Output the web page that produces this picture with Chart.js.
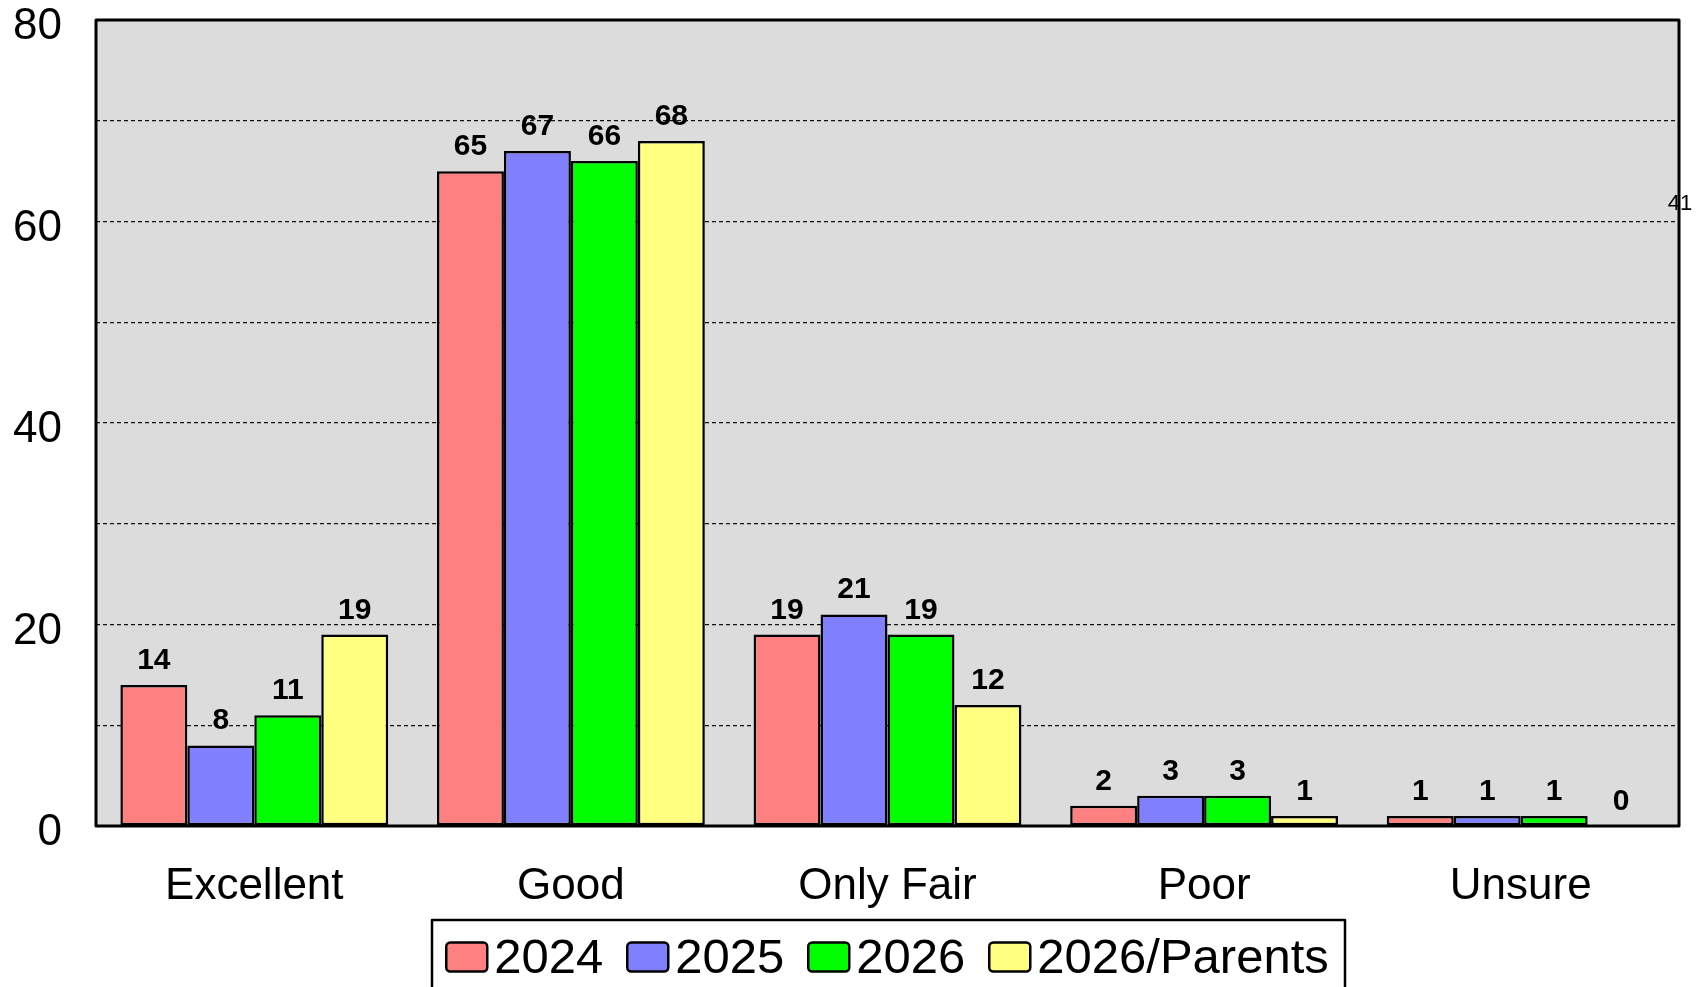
<!DOCTYPE html>
<html>
<head>
<meta charset="utf-8">
<script src="https://cdn.jsdelivr.net/npm/chart.js@4"></script>
<style>
html,body{margin:0;padding:0;background:#fff;}
#wrap{width:1705px;height:987px;position:relative;}
</style>
</head>
<body>
<div id="wrap"><canvas id="c" width="1705" height="987"></canvas></div>
<script>
const categories = ['Excellent', 'Good', 'Only Fair', 'Poor', 'Unsure'];
const series2024 = [14, 65, 19, 2, 1];
const series2025 = [8, 67, 21, 3, 1];
const series2026 = [11, 66, 19, 3, 1];
const series2026Parents = [19, 68, 12, 1, 0];
const seriesLabels = ['2024', '2025', '2026', '2026/Parents'];
const seriesColors = ['#ff8080', '#8080ff', '#00ff00', '#ffff80'];
const yTickLabels = [0, 20, 40, 60, 80];
const strayNote = '41';
const strayNoteValue = 61.7;

const FONT = '"Liberation Sans", Arial, sans-serif';
const allSeries = [series2024, series2025, series2026, series2026Parents];

const plotDecor = {
  id: 'plotDecor',
  beforeDraw(chart) {
    const {ctx, chartArea: a} = chart;
    ctx.save();
    ctx.fillStyle = '#ffffff';
    ctx.fillRect(0, 0, chart.width, chart.height);
    ctx.fillStyle = '#dcdcdc';
    ctx.fillRect(a.left, a.top, a.right - a.left, a.bottom - a.top);
    ctx.restore();
  },
  afterDatasetsDraw(chart) {
    const {ctx} = chart;
    ctx.save();
    ctx.fillStyle = '#000';
    ctx.font = 'bold 30px ' + FONT;
    ctx.textAlign = 'center';
    ctx.textBaseline = 'alphabetic';
    chart.data.datasets.forEach((ds, i) => {
      const meta = chart.getDatasetMeta(i);
      meta.data.forEach((bar, j) => {
        ctx.fillText(String(ds.data[j]), bar.x, bar.y - 16);
      });
    });
    ctx.restore();
  },
  afterDraw(chart) {
    const {ctx, chartArea: a} = chart;
    const ys = chart.scales.y;
    ctx.save();
    ctx.fillStyle = '#000';
    ctx.font = '22px ' + FONT;
    ctx.textAlign = 'center';
    ctx.textBaseline = 'middle';
    ctx.fillText(strayNote, a.right + 1, ys.getPixelForValue(strayNoteValue));
    ctx.strokeStyle = '#000';
    ctx.lineWidth = 3;
    ctx.lineJoin = 'round';
    ctx.strokeRect(a.left, a.top, a.right - a.left, a.bottom - a.top);
    // legend
    ctx.font = '49px ' + FONT;
    const boxW = 41, boxH = 29, gapText = 7, gapItem = 24;
    const widths = seriesLabels.map(t => ctx.measureText(t).width);
    let total = 0;
    widths.forEach((w, i) => { total += boxW + gapText + w + (i < widths.length - 1 ? gapItem : 0); });
    const cx = (a.left + a.right) / 2;
    const lx = 432, rx = 1345;
    ctx.fillStyle = '#fff';
    ctx.fillRect(lx, 920, rx - lx, 80);
    ctx.lineWidth = 2.5;
    ctx.strokeRect(lx, 920, rx - lx, 90);
    let x = cx - total / 2;
    const cy = 957;
    seriesLabels.forEach((t, i) => {
      ctx.beginPath();
      if (ctx.roundRect) ctx.roundRect(x, cy - boxH / 2, boxW, boxH, 4); else ctx.rect(x, cy - boxH / 2, boxW, boxH);
      ctx.fillStyle = seriesColors[i];
      ctx.fill();
      ctx.lineWidth = 2.5;
      ctx.strokeStyle = '#000';
      ctx.stroke();
      ctx.fillStyle = '#000';
      ctx.textAlign = 'left';
      ctx.textBaseline = 'middle';
      ctx.fillText(t, x + boxW + gapText, cy + 2);
      x += boxW + gapText + widths[i] + gapItem;
    });
    ctx.restore();
  }
};

new Chart(document.getElementById('c'), {
  type: 'bar',
  data: {
    labels: categories,
    datasets: allSeries.map((s, i) => ({
      label: seriesLabels[i],
      data: s,
      backgroundColor: seriesColors[i],
      borderColor: '#000',
      borderWidth: 2.5,
      borderSkipped: false,
      categoryPercentage: 0.846,
      barPercentage: 1.0
    }))
  },
  options: {
    responsive: false,
    animation: false,
    devicePixelRatio: 1,
    layout: { padding: { left: 0, right: 26, top: 20, bottom: 67 } },
    plugins: { legend: { display: false }, tooltip: { enabled: false } },
    scales: {
      x: {
        grid: { display: false, drawTicks: false },
        border: { display: false },
        ticks: { color: '#000', font: { family: FONT, size: 44 }, padding: 34, maxRotation: 0 },
        afterFit(scale) { scale.height = 94; }
      },
      y: {
        min: 0, max: 80,
        grid: {
          drawTicks: false,
          color: (c) => (c.tick && (c.tick.value === 0 || c.tick.value === 80)) ? 'rgba(0,0,0,0)' : '#111',
          lineWidth: 1.3
        },
        border: { display: false, dash: [4, 3] },
        ticks: {
          stepSize: 10,
          padding: 34,
          labelOffset: 7,
          color: '#000',
          font: { family: FONT, size: 44, lineHeight: 1 },
          callback: (v) => yTickLabels.includes(v) ? String(v) : ''
        },
        afterFit(scale) { scale.width = 96; scale.paddingTop = 0; scale.paddingBottom = 0; }
      }
    }
  },
  plugins: [plotDecor]
});
</script>
</body>
</html>
